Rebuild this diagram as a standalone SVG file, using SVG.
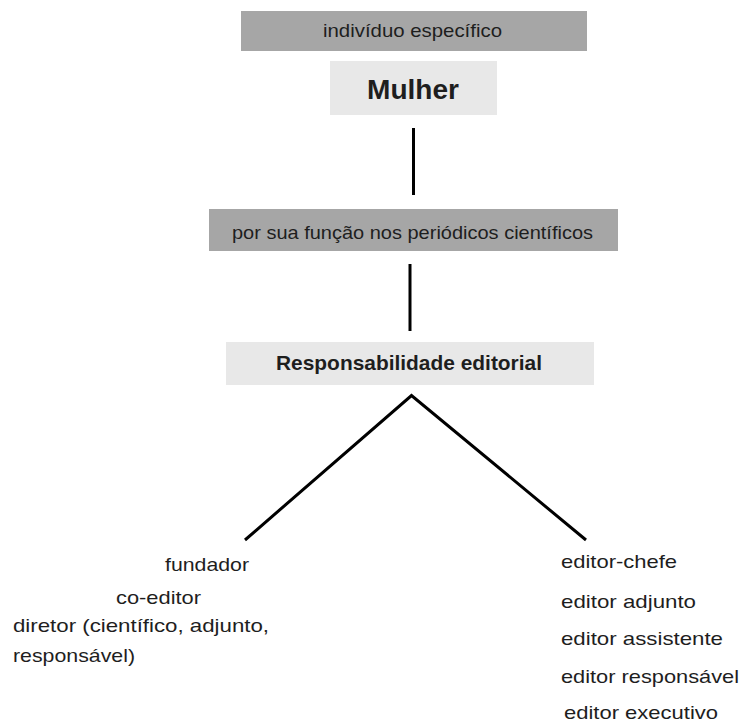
<svg xmlns="http://www.w3.org/2000/svg" width="740" height="722" viewBox="0 0 740 722">
<style>
.dark{fill:#a6a6a6}
.light{fill:#e8e8e8}
text{font-family:"Liberation Sans",Arial,sans-serif;fill:#1e1e1e}
.t{font-size:18.5px}
.b{font-weight:bold}
.ln{stroke:#000;stroke-width:3;fill:none}
</style>
<rect width="740" height="722" fill="#fff"/>
<g id="n-individuo">
<rect class="dark" x="241" y="11" width="346" height="40"/>
<text class="t" x="323" y="37" textLength="179" lengthAdjust="spacingAndGlyphs">indivíduo específico</text>
</g>
<g id="n-mulher">
<rect class="light" x="330" y="61" width="167" height="54"/>
<text class="b" font-size="27" x="367" y="99" textLength="92" lengthAdjust="spacingAndGlyphs">Mulher</text>
</g>
<g id="n-funcao">
<rect class="dark" x="209" y="209" width="409" height="42"/>
<text class="t" x="232" y="239" textLength="361" lengthAdjust="spacingAndGlyphs">por sua função nos periódicos científicos</text>
</g>
<g id="n-responsabilidade">
<rect class="light" x="226" y="342" width="368" height="43"/>
<text class="b" font-size="21" x="276" y="370" textLength="266" lengthAdjust="spacingAndGlyphs">Responsabilidade editorial</text>
</g>
<g id="n-esquerda">
<text class="t" x="165" y="570.5" textLength="84" lengthAdjust="spacingAndGlyphs">fundador</text>
<text class="t" x="116" y="604" textLength="85" lengthAdjust="spacingAndGlyphs">co-editor</text>
<text class="t" x="13" y="632" textLength="256" lengthAdjust="spacingAndGlyphs">diretor (científico, adjunto,</text>
<text class="t" x="13" y="662" textLength="122" lengthAdjust="spacingAndGlyphs">responsável)</text>
</g>
<g id="n-direita">
<text class="t" x="561" y="568" textLength="116" lengthAdjust="spacingAndGlyphs">editor-chefe</text>
<text class="t" x="561" y="607.5" textLength="135" lengthAdjust="spacingAndGlyphs">editor adjunto</text>
<text class="t" x="561" y="645" textLength="162" lengthAdjust="spacingAndGlyphs">editor assistente</text>
<text class="t" x="561" y="683" textLength="178" lengthAdjust="spacingAndGlyphs">editor responsável</text>
<text class="t" x="564" y="719" textLength="154" lengthAdjust="spacingAndGlyphs">editor executivo</text>
</g>
<g id="connectors">
<line class="ln" x1="413.5" y1="128" x2="413.5" y2="195"/>
<line class="ln" x1="410" y1="264" x2="410" y2="331"/>
<polyline class="ln" points="245,540 411.5,395.5 586,540"/>
</g>
</svg>
